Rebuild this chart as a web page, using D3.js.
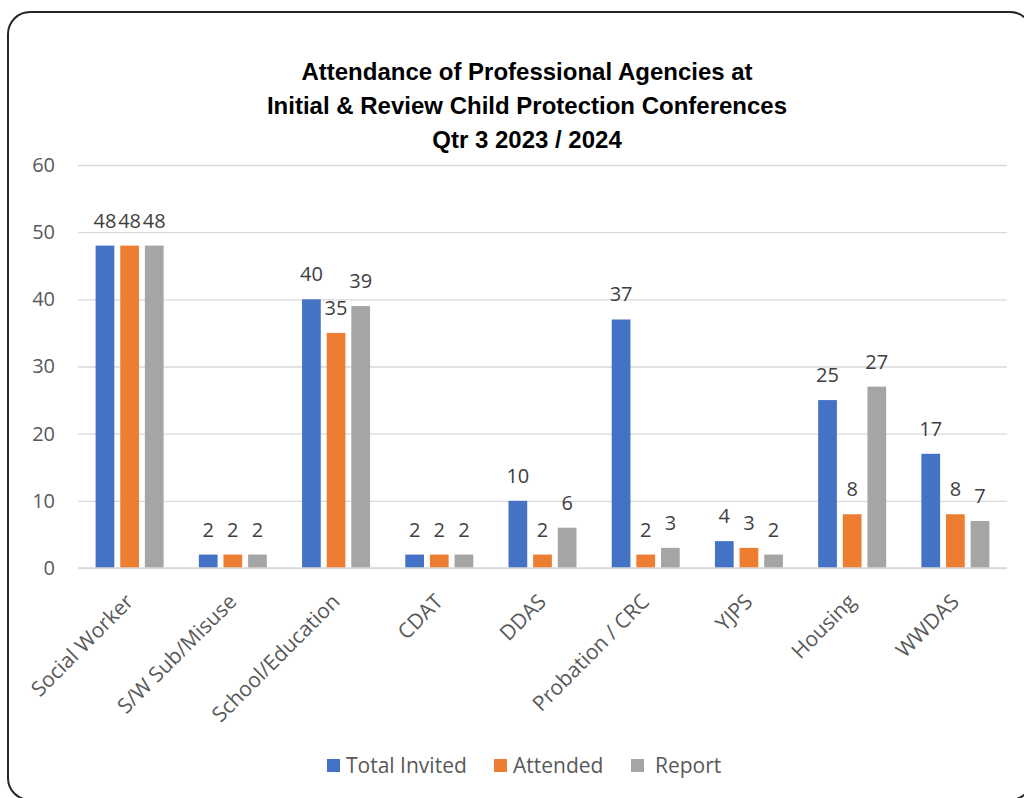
<!DOCTYPE html>
<html>
<head>
<meta charset="utf-8">
<script src="https://cdn.jsdelivr.net/npm/d3@7"></script>
<style>
  body { margin: 0; background: #fff; }
  svg { display: block; }
  .tick text { font-family: "Open Sans", "Noto Sans", sans-serif; }
</style>
</head>
<body>
<svg id="chart" width="1024" height="798"></svg>
<script>
const categories = ['Social Worker', 'S/W Sub/Misuse', 'School/Education', 'CDAT', 'DDAS', 'Probation / CRC', 'YJPS', 'Housing', 'WWDAS'];
const totalInvited = [48, 2, 40, 2, 10, 37, 4, 25, 17];
const attended = [48, 2, 35, 2, 2, 2, 3, 8, 8];
const report = [48, 2, 39, 2, 6, 3, 2, 27, 7];
const seriesNames = ['Total Invited', 'Attended', 'Report'];
const yTicks = [0, 10, 20, 30, 40, 50, 60];
const titleLines = ['Attendance of Professional Agencies at', 'Initial & Review Child Protection Conferences', 'Qtr 3 2023 / 2024'];

const colorAry = ['#4472c4', '#ed7d31', '#a5a5a5'];
const font = '"Open Sans", "Noto Sans", sans-serif';

const svg = d3.select('#chart');
const margin = { top: 165, left: 78, right: 1007, bottom: 568 };

// frame
svg.append('rect')
  .attr('x', 8).attr('y', 12)
  .attr('width', 1024).attr('height', 788)
  .attr('rx', 22)
  .attr('fill', '#fff')
  .attr('stroke', '#262626')
  .attr('stroke-width', 2);

// title
svg.append('g').selectAll('text')
  .data(titleLines)
  .enter()
  .append('text')
  .attr('x', 527)
  .attr('y', (d, i) => 80 + i * 34)
  .attr('text-anchor', 'middle')
  .attr('font-family', '"Liberation Sans", Arial, sans-serif')
  .attr('font-weight', 'bold')
  .attr('font-size', '24px')
  .attr('fill', '#000')
  .text(d => d);

const yScale = d3.scaleLinear()
  .domain([0, 60])
  .range([margin.bottom, margin.top]);

const xScale = d3.scaleBand()
  .domain(categories)
  .range([margin.left, margin.right]);

const xInner = d3.scaleBand()
  .domain(seriesNames)
  .range([-34, 34])
  .paddingInner(0.24);

// grid
const grid = svg.append('g')
  .attr('transform', `translate(${margin.left}, 0)`)
  .call(d3.axisLeft(yScale).tickValues(yTicks).tickSize(-(margin.right - margin.left)).tickFormat(''));
grid.select('.domain').remove();
grid.selectAll('line').attr('stroke', '#d9d9d9').attr('stroke-width', 1.3);

// y labels
const yAxis = svg.append('g')
  .attr('transform', `translate(${margin.left - 23}, 0)`)
  .call(d3.axisLeft(yScale).tickValues(yTicks).tickSize(0).tickPadding(0));
yAxis.select('.domain').remove();
yAxis.selectAll('text')
  .attr('font-size', '20px')
  .attr('fill', '#595959');

// bars
const dataset = categories.map((c, i) => ({
  name: c,
  values: [totalInvited[i], attended[i], report[i]].map((v, j) => ({ key: seriesNames[j], value: v }))
}));

const groups = svg.append('g').selectAll('g')
  .data(dataset)
  .enter()
  .append('g')
  .attr('transform', d => `translate(${xScale(d.name) + xScale.bandwidth() / 2}, 0)`);

groups.selectAll('rect')
  .data(d => d.values)
  .enter()
  .append('rect')
  .attr('x', d => xInner(d.key))
  .attr('y', d => yScale(d.value))
  .attr('width', xInner.bandwidth())
  .attr('height', d => yScale(0) - yScale(d.value))
  .attr('fill', (d, i) => colorAry[i]);

groups.selectAll('text')
  .data(d => d.values)
  .enter()
  .append('text')
  .attr('x', d => xInner(d.key) + xInner.bandwidth() / 2)
  .attr('y', d => yScale(d.value) - 18)
  .attr('text-anchor', 'middle')
  .attr('font-family', font)
  .attr('font-size', '20px')
  .attr('fill', '#404040')
  .text(d => d.value);

// x axis line
svg.append('line')
  .attr('x1', margin.left).attr('x2', margin.right)
  .attr('y1', yScale(0)).attr('y2', yScale(0))
  .attr('stroke', '#d9d9d9').attr('stroke-width', 1.5);

// x labels
const xAxis = svg.append('g')
  .attr('transform', `translate(0, ${yScale(0)})`)
  .call(d3.axisBottom(xScale).tickSize(0).tickPadding(0));
xAxis.select('.domain').remove();
xAxis.selectAll('text')
  .attr('font-size', '21px')
  .attr('fill', '#595959')
  .attr('text-anchor', 'end')
  .attr('dy', 0)
  .attr('transform', 'translate(5, 35) rotate(-45)');

// legend
const legendX = [327, 494, 631];
const legend = svg.append('g').selectAll('g')
  .data(seriesNames)
  .enter()
  .append('g')
  .attr('transform', (d, i) => `translate(${legendX[i]}, 759)`);
legend.append('rect')
  .attr('width', 13).attr('height', 13)
  .attr('fill', (d, i) => colorAry[i]);
legend.append('text')
  .attr('x', (d, i) => i === 2 ? 24 : 19)
  .attr('y', 14)
  .attr('font-family', font)
  .attr('font-size', '21px')
  .attr('fill', '#595959')
  .text(d => d);
</script>
</body>
</html>
